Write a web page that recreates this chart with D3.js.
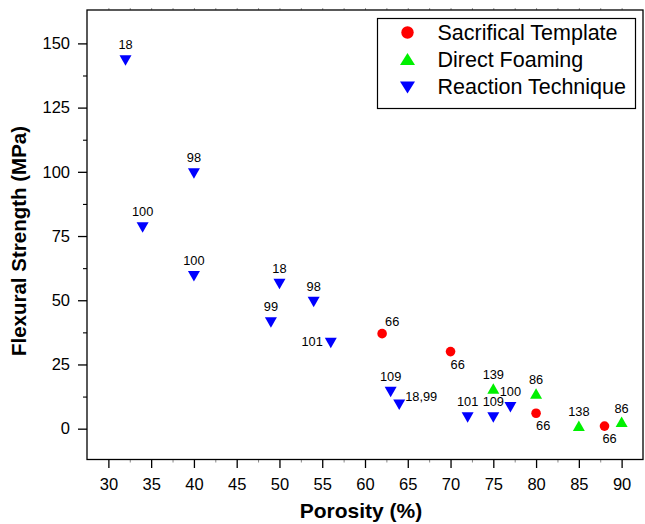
<!DOCTYPE html>
<html>
<head>
<meta charset="utf-8">
<script src="https://cdn.jsdelivr.net/npm/d3@7"></script>
<style>
  html, body { margin: 0; padding: 0; background: #fff; }
  svg { display: block; font-family: "Liberation Sans", Arial, Helvetica, sans-serif; }
</style>
</head>
<body>
<svg id="chart" width="645" height="524"></svg>
<script>
// ---- data ----
const seriesNames = ["Sacrifical Template", "Direct Foaming", "Reaction Technique"];

const sacPorosity = [62, 70, 80, 88];
const sacStrength = [37, 30, 6, 1];
const sacLabels   = ["66", "66", "66", "66"];
const sacLabelPos = ["aboveright", "belowright", "belowright", "below"];

const foamPorosity = [75, 80, 85, 90];
const foamStrength = [15, 13, 0.5, 2];
const foamLabels   = ["139", "86", "138", "86"];
const foamLabelPos = ["above", "above", "above", "above"];

const reacPorosity = [32, 40, 34, 40, 50, 54, 49, 56, 63, 64, 72, 75, 77];
const reacStrength = [144, 100, 79, 60, 57, 50, 42, 34, 15, 10, 5, 5, 9];
const reacLabels   = ["18", "98", "100", "100", "18", "98", "99", "101", "109", "18,99", "101", "109", "100"];
const reacLabelPos = ["above", "above", "above", "above", "above", "above", "above", "left", "above", "right", "above", "above", "above"];

const xTicks = [30, 35, 40, 45, 50, 55, 60, 65, 70, 75, 80, 85, 90];
const yTicks = [0, 25, 50, 75, 100, 125, 150];
const xMinorTicks = [32.5, 37.5, 42.5, 47.5, 52.5, 57.5, 62.5, 67.5, 72.5, 77.5, 82.5, 87.5];
const yMinorTicks = [12.5, 37.5, 62.5, 87.5, 112.5, 137.5];

const xTitle = "Porosity (%)";
const yTitle = "Flexural Strength (MPa)";

// ---- layout ----
const svg = d3.select("#chart");
const L = 87, R = 643, T = 10, B = 459.5;
const x = d3.scaleLinear().domain([27.5, 92.5]).range([L, R]);
const y = d3.scaleLinear().domain([-12, 163]).range([B, T]);

const RED = "#ff0000", GREEN = "#00f000", BLUE = "#0000ff";

// top frame tiny ticks
svg.append("g").attr("transform", `translate(0,${T})`)
  .call(d3.axisTop(x).tickValues(xTicks.concat(xMinorTicks)).tickSize(2).tickFormat(""))
  .call(g => g.select(".domain").remove())
  .call(g => g.selectAll("line").attr("stroke", "#999"));

// x minor ticks
svg.append("g").attr("transform", `translate(0,${B})`)
  .call(d3.axisBottom(x).tickValues(xMinorTicks).tickSize(3).tickFormat(""))
  .call(g => g.select(".domain").remove())
  .call(g => g.selectAll("line").attr("stroke", "#888"));

// x axis
svg.append("g").attr("transform", `translate(0,${B})`)
  .call(d3.axisBottom(x).tickValues(xTicks).tickSize(8.5).tickPadding(10.5).tickFormat(d3.format("d")))
  .call(g => g.select(".domain").remove())
  .call(g => g.selectAll("line").attr("stroke", "#000").attr("stroke-width", 1.3))
  .call(g => g.selectAll("text").attr("fill", "#000").style("font-size", "16.5px")
    .style("font-family", "'Liberation Sans', Arial, sans-serif"));

// y minor ticks
svg.append("g").attr("transform", `translate(${L},0)`)
  .call(d3.axisLeft(y).tickValues(yMinorTicks).tickSize(4).tickFormat(""))
  .call(g => g.select(".domain").remove())
  .call(g => g.selectAll("line").attr("stroke", "#000").attr("stroke-width", 1.1));

// y axis
svg.append("g").attr("transform", `translate(${L},0)`)
  .call(d3.axisLeft(y).tickValues(yTicks).tickSize(9).tickPadding(8).tickFormat(d3.format("d")))
  .call(g => g.select(".domain").remove())
  .call(g => g.selectAll("line").attr("stroke", "#000").attr("stroke-width", 1.3))
  .call(g => g.selectAll("text").attr("fill", "#000").style("font-size", "16.5px")
    .style("font-family", "'Liberation Sans', Arial, sans-serif"));

// frame
svg.append("rect")
  .attr("x", L).attr("y", T).attr("width", R - L).attr("height", B - T)
  .attr("fill", "none").attr("stroke", "#000").attr("stroke-width", 1.3);

// axis titles
svg.append("text")
  .attr("x", 361).attr("y", 518)
  .attr("text-anchor", "middle")
  .style("font-size", "21px").style("font-weight", "bold")
  .text(xTitle);

svg.append("text")
  .attr("transform", `translate(26,241) rotate(-90)`)
  .attr("text-anchor", "middle")
  .style("font-size", "20.5px").style("font-weight", "bold")
  .text(yTitle);

// symbols
function triDown(w, h) {
  return `M${-w/2},${-h/3} L${w/2},${-h/3} L0,${2*h/3} Z`;
}
function triUp(w, h) {
  return `M${-w/2},${h/3} L${w/2},${h/3} L0,${-2*h/3} Z`;
}

const placement = {
  above:      {anchor: "middle", dx: 0, dy: -9},
  left:       {anchor: "end",    dx: -8, dy: 5},
  right:      {anchor: "start",  dx: 6, dy: -2},
  aboveright: {anchor: "start",  dx: 3, dy: -8},
  belowright: {anchor: "start",  dx: 0, dy: 17},
  below:      {anchor: "middle", dx: 5, dy: 17}
};

function drawLabels(px, py, labels, pos, extraAbove) {
  const data = px.map((v, i) => ({x: v, y: py[i], t: labels[i], p: placement[pos[i]], key: pos[i]}));
  svg.append("g").selectAll("text").data(data).join("text")
    .attr("x", d => x(d.x) + d.p.dx)
    .attr("y", d => y(d.y) + d.p.dy + (d.key === "above" ? extraAbove : 0))
    .attr("text-anchor", d => d.p.anchor)
    .style("font-size", "12.8px").attr("fill", "#000")
    .text(d => d.t);
}

// Reaction Technique
svg.append("g").selectAll("path")
  .data(reacPorosity.map((v, i) => [v, reacStrength[i]]))
  .join("path")
  .attr("transform", d => `translate(${x(d[0])},${y(d[1])})`)
  .attr("d", triDown(12, 10.5)).attr("fill", BLUE);
drawLabels(reacPorosity, reacStrength, reacLabels, reacLabelPos, -0.5);

// Direct Foaming
svg.append("g").selectAll("path")
  .data(foamPorosity.map((v, i) => [v, foamStrength[i]]))
  .join("path")
  .attr("transform", d => `translate(${x(d[0])},${y(d[1])})`)
  .attr("d", triUp(12, 10.5)).attr("fill", GREEN);
drawLabels(foamPorosity, foamStrength, foamLabels, foamLabelPos, -2);

// Sacrificial Template
svg.append("g").selectAll("circle")
  .data(sacPorosity.map((v, i) => [v, sacStrength[i]]))
  .join("circle")
  .attr("cx", d => x(d[0])).attr("cy", d => y(d[1])).attr("r", 4.8)
  .attr("fill", RED);
drawLabels(sacPorosity, sacStrength, sacLabels, sacLabelPos, 0);

// legend
const lg = svg.append("g");
lg.append("rect").attr("x", 377.5).attr("y", 18.5).attr("width", 258).attr("height", 90)
  .attr("fill", "#fff").attr("stroke", "#000").attr("stroke-width", 1.2);
const legColors = [RED, GREEN, BLUE];
seriesNames.forEach((name, i) => {
  const cy = 32.5 + i * 27;
  if (i === 0) {
    lg.append("circle").attr("cx", 407.5).attr("cy", cy).attr("r", 6.2).attr("fill", legColors[i]);
  } else {
    lg.append("path").attr("transform", `translate(407.5,${cy + (i === 1 ? 1.5 : -1)})`)
      .attr("d", i === 1 ? triUp(15, 12) : triDown(15, 12)).attr("fill", legColors[i]);
  }
  lg.append("text").attr("x", 437.5).attr("y", cy + 7.5)
    .style("font-size", "21.5px").attr("fill", "#000").text(name);
});
</script>
</body>
</html>
